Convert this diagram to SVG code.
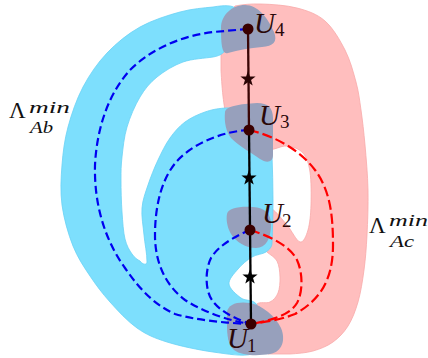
<svg xmlns="http://www.w3.org/2000/svg" width="428" height="358" viewBox="0 0 428 358">
<defs>
<style>
.blue-region{fill:#7ddffd;stroke:#6ad2f5;stroke-width:0.8}
.red-region{fill:#ffbebe;stroke:#f8a9a9;stroke-width:0.8}
.halo{fill:#97a0bc}
.bd{fill:none;stroke:#0000f0;stroke-width:2.2;stroke-dasharray:8 4}
.rd{fill:none;stroke:#ff0000;stroke-width:2.2;stroke-dasharray:10 4}
.dot{fill:#3a0000}
.lab{font-family:"Liberation Serif","Times New Roman",serif;font-style:italic;fill:#2a0808}
.sub{font-family:"Liberation Serif","Times New Roman",serif;fill:#2a0808}
.lam{font-family:"Liberation Serif","Times New Roman",serif;fill:#111}
.lamit{font-family:"Liberation Serif","Times New Roman",serif;font-style:italic;fill:#111}
</style>
<path id="star" d="M0,-8 L1.88,-2.59 L7.61,-2.47 L3.04,0.99 L4.7,6.47 L0,3.2 L-4.7,6.47 L-3.04,0.99 L-7.61,-2.47 L-1.88,-2.59 Z"/>
</defs>
<rect width="428" height="358" fill="#ffffff"/>
<g id="regions">
<path id="region-Ac" class="red-region" d="M235,6 C243,4.5 250.7,3.7 261,4 C271.3,4.3 286.3,5.2 297,8 C307.7,10.8 317,14 325,21 C333,28 339.8,39.8 345,50 C350.2,60.2 353.3,72 356,82 C358.7,92 359.5,99.5 361,110 C362.5,120.5 363.8,131.7 365,145 C366.2,158.3 367.7,175 368,190 C368.3,205 367.7,221.7 367,235 C366.3,248.3 365.5,258.8 364,270 C362.5,281.2 360.7,292.7 358,302 C355.3,311.3 352.2,319.3 348,326 C343.8,332.7 338.8,337.8 333,342 C327.2,346.2 320.2,349 313,351 C305.8,353 297.5,353.5 290,354 L268,354 L256,340 L253,318 L257,304 C259.8,301.3 266.5,303.8 270,302 C273.5,300.2 276.3,297.2 278,293 C279.7,288.8 280.2,282.3 280,277 C279.8,271.7 279.2,265.2 277,261 C274.8,256.8 269.5,254.5 267,252 L262,246 L262,210 L272,209 C276.2,211.5 282.3,219.5 287,225 C291.7,230.5 296.5,241.2 300,242 C303.5,242.8 306.2,236.2 308,230 C309.8,223.8 310.7,214.7 311,205 C311.3,195.3 311.3,180.7 310,172 C308.7,163.3 306.7,157.3 303,153 C299.3,148.7 292.8,146.7 288,146 C283.2,145.3 278.3,148 274,149 L262,152 L262,138 L228,120 C224,112 222,90 221,70 L221,45 L222,20 Z"/>
<path id="region-Ab" class="blue-region" d="M236,9 C233,5 225,5 213,7 C203.3,8 192.2,8.7 180,12 C167.8,15.3 152.2,20.2 140,27 C127.8,33.8 116.5,43 107,53 C97.5,63 89.5,74.7 83,87 C76.5,99.3 71.5,114 68,127 C64.5,140 63,152 62,165 C61,178 60.2,191.5 62,205 C63.8,218.5 68.3,234.2 73,246 C77.7,257.8 83.8,266.7 90,276 C96.2,285.3 102.2,293.3 110,302 C117.8,310.7 127.5,321.3 137,328 C146.5,334.7 154.3,338 167,342 C179.7,346 198.8,350 213,352 C227.2,354 243.8,356.8 252,354 L262,335 L257,305 C253.5,298.8 245.7,301.5 241,298 C236.3,294.5 229.5,288.8 229,284 C228.5,279.2 234.2,273.5 238,269 C241.8,264.5 247.3,259.8 252,257 C256.7,254.2 262.7,254.3 266,252 C269.3,249.7 272,247 272,243 C272.5,230 273,215 273,200 C273,185 272.5,170 272,155 L271,118 L260,107 L225,108 C215.8,108.8 211.7,109.7 205,112 C198.3,114.3 190.8,117.7 185,122 C179.2,126.3 174.5,131.7 170,138 C165.5,144.3 161.7,152.2 158,160 C154.3,167.8 150.7,177 148,185 C145.3,193 142.7,199.7 142,208 C141.3,216.3 143.2,226 144,235 C144.8,244 147,253 147,262 C147,265 143,265 140,261 C137.5,259.7 134.5,257.7 132,254 C129.5,250.3 126.7,246 125,239 C123.3,232 122.7,221.8 122,212 C121.3,202.2 121,189.2 121,180 C121,170.8 121,165.8 122,157 C123,148.2 124,137 127,127 C130,117 135,105.3 140,97 C145,88.7 149.8,82.8 157,77 C164.2,71.2 173.7,65.3 183,62 C192.3,58.7 205.2,58.3 213,57 C219,56 222,54 224,52 Z"/>
</g>
<g id="halos">
<path id="halo-U4" class="halo" d="M221,28 C221,15 232,5 245,5 C258,5 268,18 274,32 C278,42 273,46 262,47 C250,48 238,50 228,53 C222,55 221,45 221,28 Z"/>
<path id="halo-U3" class="halo" d="M225,112 C226,106 240,104 257,103 C268,103 273,108 273,118 L273,155 C273,163 266,163 260,159 C252,153 240,147 231,138 C226,132 224,122 225,112 Z"/>
<path id="halo-U2" class="halo" d="M227,214 C228,208 240,206 253,207 C265,208 271,213 271,225 C271,238 266,248 256,248 C246,248 236,242 231,234 C227,227 226,219 227,214 Z"/>
<path id="halo-U1" class="halo" d="M227,312 C228,304 238,301 250,303 C262,305 275,316 281,328 C286,340 282,352 270,354 C258,356 242,356 234,350 C228,345 227,335 227,325 Z"/>
</g>
<g id="connectors">
<path class="bd" d="M248,29 L213,32 C180,36 150,50 130,70 C110,92 97,125 95,165 C94,205 105,240 125,268 C140,290 155,305 175,314 C195,320 225,323 251,324"/>
<path class="bd" d="M249,130 C225,131 195,142 178,160 C162,177 155,205 155,235 C155,262 165,285 185,300 C205,313 230,321 251,324"/>
<path class="bd" d="M250,230 C235,236 218,246 211,258 C205,270 205,290 212,300 C220,312 238,320 251,324"/>
<path class="rd" d="M249,130 C275,136 300,150 315,170 C330,190 333,215 333,245 C333,280 320,300 295,314 C280,320 265,322 251,324"/>
<path class="rd" d="M250,230 C270,236 290,246 297,260 C303,273 303,292 297,303 C290,315 270,321 251,324"/>
<line x1="248" y1="29" x2="249" y2="130" stroke="#3a0606" stroke-width="2.3"/>
<line x1="249" y1="130" x2="251" y2="324" stroke="#000000" stroke-width="2.3"/>
<use href="#star" x="248" y="79" fill="#2a0404"/>
<use href="#star" x="249" y="178" fill="#000000"/>
<use href="#star" x="250" y="277" fill="#000000"/>
</g>
<g id="U4"><circle class="dot" cx="248" cy="29" r="5.5"/><text class="lab" x="254" y="33" font-size="29">U</text><text class="sub" x="275" y="36" font-size="19">4</text></g>
<g id="U3"><circle class="dot" cx="249" cy="130" r="5.5"/><text class="lab" x="259" y="125" font-size="29">U</text><text class="sub" x="280" y="128" font-size="19">3</text></g>
<g id="U2"><circle class="dot" cx="250" cy="230" r="5.5"/><text class="lab" x="262" y="223" font-size="29">U</text><text class="sub" x="282" y="227" font-size="19">2</text></g>
<g id="U1"><circle class="dot" cx="251" cy="324" r="5.5"/><text class="lab" x="227" y="348" font-size="29">U</text><text class="sub" x="247" y="352" font-size="19">1</text></g>
<g id="label-Ab"><text class="lam" x="9" y="118" font-size="23">Λ</text><text class="lamit" x="29" y="113" font-size="17" textLength="41" lengthAdjust="spacingAndGlyphs">min</text><text class="lamit" x="30" y="133" font-size="17" textLength="23" lengthAdjust="spacingAndGlyphs">Ab</text></g>
<g id="label-Ac"><text class="lam" x="369" y="233" font-size="23">Λ</text><text class="lamit" x="389" y="226" font-size="17" textLength="39" lengthAdjust="spacingAndGlyphs">min</text><text class="lamit" x="390" y="247" font-size="17" textLength="24" lengthAdjust="spacingAndGlyphs">Ac</text></g>
</svg>
